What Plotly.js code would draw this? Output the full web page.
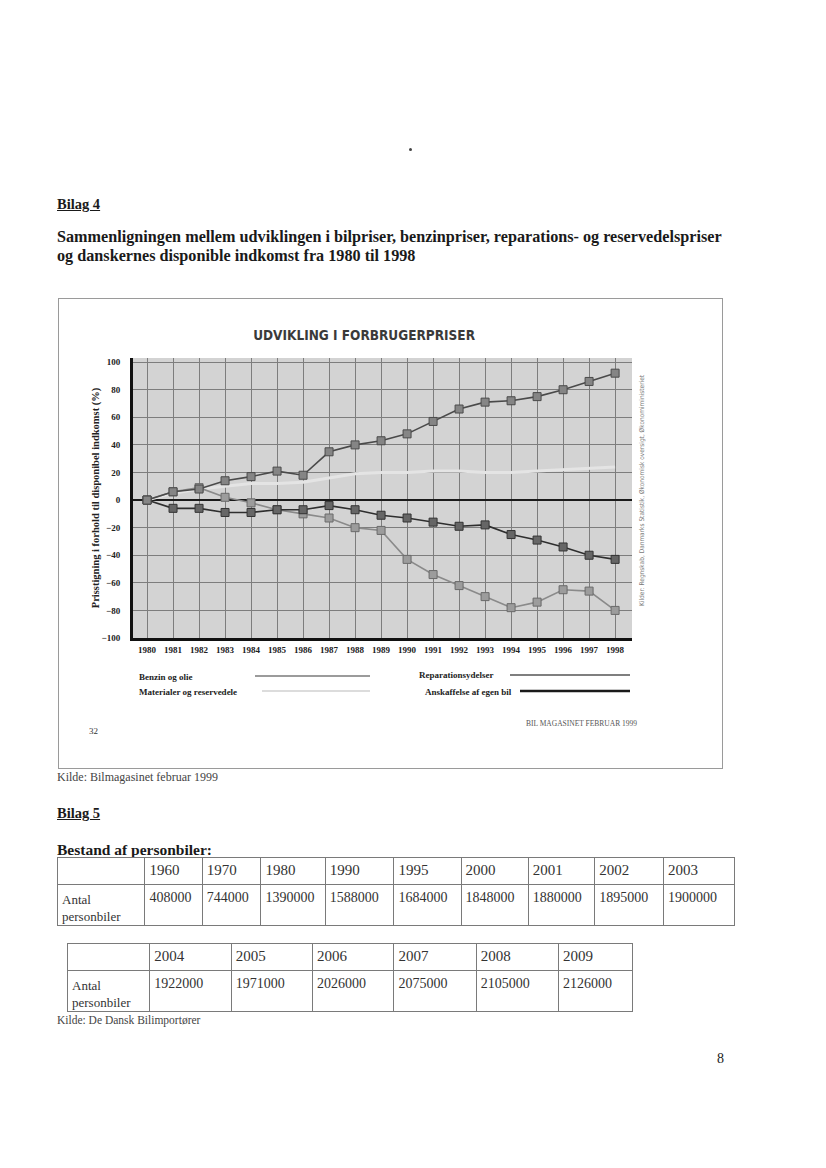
<!DOCTYPE html>
<html>
<head>
<meta charset="utf-8">
<script src="https://cdn.plot.ly/plotly-3.0.1.min.js"></script>
<style>
  html, body { margin:0; padding:0; background:#fff; }
  body { width:826px; height:1168px; position:relative; overflow:hidden; font-family:"Liberation Serif","Times New Roman",serif; color:#1a1a1a; }
  .abs { position:absolute; white-space:nowrap; }
  .frame { position:absolute; left:58px; top:298px; width:663px; height:469px; border:1px solid #9a9a9a; }
  #chart { position:absolute; left:58px; top:298px; width:664px; height:470px; }
  table { border-collapse:collapse; position:absolute; font-family:"Liberation Serif",serif; color:#333; }
  td { border:1px solid #7a7a7a; vertical-align:top; padding:0 0 0 4px; font-size:14.5px; line-height:17px; }
</style>
</head>
<body>
<div class="abs" style="left:409px;top:148px;width:3px;height:3px;background:#444;border-radius:2px;"></div>
<div class="abs" style="left:57px;top:196px;font-size:14.5px;font-weight:bold;text-decoration:underline;">Bilag 4</div>
<div class="abs" style="left:57px;top:228px;font-size:16.2px;font-weight:bold;line-height:19px;">Sammenligningen mellem udviklingen i bilpriser, benzinpriser, reparations- og reservedelspriser<br>og danskernes disponible indkomst fra 1980 til 1998</div>

<div class="frame"></div>
<div id="chart"></div>

<div class="abs" style="left:57px;top:770px;font-size:12px;color:#444;">Kilde: Bilmagasinet februar 1999</div>
<div class="abs" style="left:57px;top:805px;font-size:14.5px;font-weight:bold;text-decoration:underline;">Bilag 5</div>
<div class="abs" style="left:57px;top:841px;font-size:15.5px;font-weight:bold;">Bestand af personbiler:</div>

<table id="t1" style="left:57px;top:857px;width:678px;"></table>
<table id="t2" style="left:67px;top:943px;width:566px;"></table>

<div class="abs" style="left:57px;top:1014px;font-size:11.5px;color:#444;">Kilde: De Dansk Bilimportører</div>
<div class="abs" style="left:717px;top:1051px;font-size:14px;">8</div>

<script>
// ---- chart data ----
var years = [1980,1981,1982,1983,1984,1985,1986,1987,1988,1989,1990,1991,1992,1993,1994,1995,1996,1997,1998];
var reparationsydelser = [0,6,8,14,17,21,18,35,40,43,48,57,66,71,72,75,80,86,92];
var benzinOgOlie       = [0,6,9,2,-2,-7,-10,-13,-20,-22,-43,-54,-62,-70,-78,-74,-65,-66,-80];
var anskaffelse        = [0,-6,-6,-9,-9,-7,-7,-4,-7,-11,-13,-16,-19,-18,-25,-29,-34,-40,-43];
var materialer         = [0,5,8,10,12,12,13,16,19,20,20,21,21,20,20,21,22,23,24];
var yTicks = [-100,-80,-60,-40,-20,0,20,40,60,80,100];
var seriesNames = ["Benzin og olie","Materialer og reservedele","Reparationsydelser","Anskaffelse af egen bil"];

// ---- table data ----
var tab1Years  = ["1960","1970","1980","1990","1995","2000","2001","2002","2003"];
var tab1Values = ["408000","744000","1390000","1588000","1684000","1848000","1880000","1895000","1900000"];
var tab2Years  = ["2004","2005","2006","2007","2008","2009"];
var tab2Values = ["1922000","1971000","2026000","2075000","2105000","2126000"];
var rowLabel = "Antal<br>personbiler";

function buildTable(id, yrs, vals, widths) {
  var t = document.getElementById(id);
  var h = '<tr style="height:27px">' + '<td style="width:' + widths[0] + 'px"></td>';
  yrs.forEach(function (y, i) { h += '<td style="width:' + widths[i + 1] + 'px;padding-top:4px;font-size:15px">' + y + '</td>'; });
  h += '</tr><tr style="height:41px"><td style="font-size:13px;padding-top:6px;line-height:17px">' + rowLabel + '</td>';
  vals.forEach(function (v, i) { h += '<td style="padding-top:4px;font-size:14px">' + v + '</td>'; });
  h += '</tr>';
  t.innerHTML = h;
}
buildTable("t1", tab1Years, tab1Values, [91,56,58,63,69,67,67,66,69,72]);
buildTable("t2", tab2Years, tab2Values, [81,82,82,82,83,83,73]);

// ---- chart ----
function PX(x) { return (x - 133) / 499; }
function PY(y) { return (638 - y) / 280; }

var traces = [
  { x: years, y: materialer, name: seriesNames[1], mode: "lines",
    line: { color: "#e4e4e4", width: 3 } },
  { x: years, y: benzinOgOlie, name: seriesNames[0], mode: "lines+markers",
    line: { color: "#8a8a8a", width: 1.6 },
    marker: { symbol: "square", size: 8, color: "#9c9c9c", line: { color: "#6a6a6a", width: 1 } } },
  { x: years, y: anskaffelse, name: seriesNames[3], mode: "lines+markers",
    line: { color: "#2e2e2e", width: 1.6 },
    marker: { symbol: "square", size: 8, color: "#666", line: { color: "#333", width: 1 } } },
  { x: years, y: reparationsydelser, name: seriesNames[2], mode: "lines+markers",
    line: { color: "#4a4a4a", width: 1.6 },
    marker: { symbol: "square", size: 8, color: "#858585", line: { color: "#4a4a4a", width: 1 } } }
];

var legFont = { family: "Liberation Serif", size: 9, color: "#222", weight: "bold" };
var annotations = [
  { text: "<b>Benzin og olie</b>", xref: "paper", yref: "paper", x: PX(137), y: PY(677), xanchor: "left", yanchor: "middle", showarrow: false, font: legFont },
  { text: "<b>Materialer og reservedele</b>", xref: "paper", yref: "paper", x: PX(137), y: PY(692), xanchor: "left", yanchor: "middle", showarrow: false, font: legFont },
  { text: "<b>Reparationsydelser</b>", xref: "paper", yref: "paper", x: PX(496), y: PY(675), xanchor: "right", yanchor: "middle", showarrow: false, font: legFont },
  { text: "<b>Anskaffelse af egen bil</b>", xref: "paper", yref: "paper", x: PX(514), y: PY(692), xanchor: "right", yanchor: "middle", showarrow: false, font: legFont },
  { text: "BIL MAGASINET FEBRUAR 1999", xref: "paper", yref: "paper", x: PX(639), y: PY(723), xanchor: "right", yanchor: "middle", showarrow: false,
    font: { family: "Liberation Serif", size: 7.5, color: "#555" } },
  { text: "32", xref: "paper", yref: "paper", x: PX(87), y: PY(731), xanchor: "left", yanchor: "middle", showarrow: false,
    font: { family: "Liberation Serif", size: 9, color: "#333" } },
  { text: "Kilder: Regnskab, Danmarks Statistik, Økonomisk oversigt, Økonomiministeriet", xref: "paper", yref: "paper",
    x: PX(642), y: PY(490), textangle: -90, xanchor: "center", yanchor: "middle", showarrow: false,
    font: { family: "DejaVu Sans Condensed", size: 6.5, color: "#777" } }
];

var shapes = [
  { type: "line", xref: "paper", yref: "paper", x0: PX(255), x1: PX(370), y0: PY(676), y1: PY(676), line: { color: "#7a7a7a", width: 1.5 } },
  { type: "line", xref: "paper", yref: "paper", x0: PX(262), x1: PX(370), y0: PY(691), y1: PY(691), line: { color: "#d0d0d0", width: 1.5 } },
  { type: "line", xref: "paper", yref: "paper", x0: PX(510), x1: PX(630), y0: PY(675), y1: PY(675), line: { color: "#555", width: 1.5 } },
  { type: "line", xref: "paper", yref: "paper", x0: PX(520), x1: PX(630), y0: PY(691), y1: PY(691), line: { color: "#1a1a1a", width: 2.5 } }
];

var layout = {
  width: 664, height: 470,
  margin: { l: 75, r: 90, t: 60, b: 130 },
  paper_bgcolor: "rgba(0,0,0,0)",
  plot_bgcolor: "#d3d3d3",
  showlegend: false,
  title: { text: "<b>UDVIKLING I FORBRUGERPRISER</b>", x: 0.461, xref: "container", y: 0.921, yref: "container", yanchor: "middle",
    font: { family: "DejaVu Sans Condensed", size: 13.5, color: "#3a3a3a" } },
  xaxis: {
    range: [1979.46, 1998.65], tickvals: years, ticktext: years.map(String),
    showgrid: true, gridcolor: "#7d7d7d", gridwidth: 1,
    zeroline: false, showline: true, linecolor: "#111", linewidth: 3,
    ticks: "", ticklabelstandoff: 1,
    tickfont: { family: "Liberation Serif", size: 9, color: "#222", weight: "bold" }
  },
  yaxis: {
    range: [-100, 103], tickvals: yTicks,
    showgrid: true, gridcolor: "#7d7d7d", gridwidth: 1,
    zeroline: true, zerolinecolor: "#1a1a1a", zerolinewidth: 2,
    showline: true, linecolor: "#111", linewidth: 3,
    ticks: "", ticklabelstandoff: 8,
    tickfont: { family: "Liberation Serif", size: 9, color: "#222", weight: "bold" },
    title: { text: "<b>Prisstigning i forhold til disponibel indkomst (%)</b>", standoff: 0,
      font: { family: "Liberation Serif", size: 10.5, color: "#222" } }
  },
  annotations: annotations,
  shapes: shapes
};

Plotly.newPlot("chart", traces, layout, { staticPlot: true, displayModeBar: false });
</script>
</body>
</html>
